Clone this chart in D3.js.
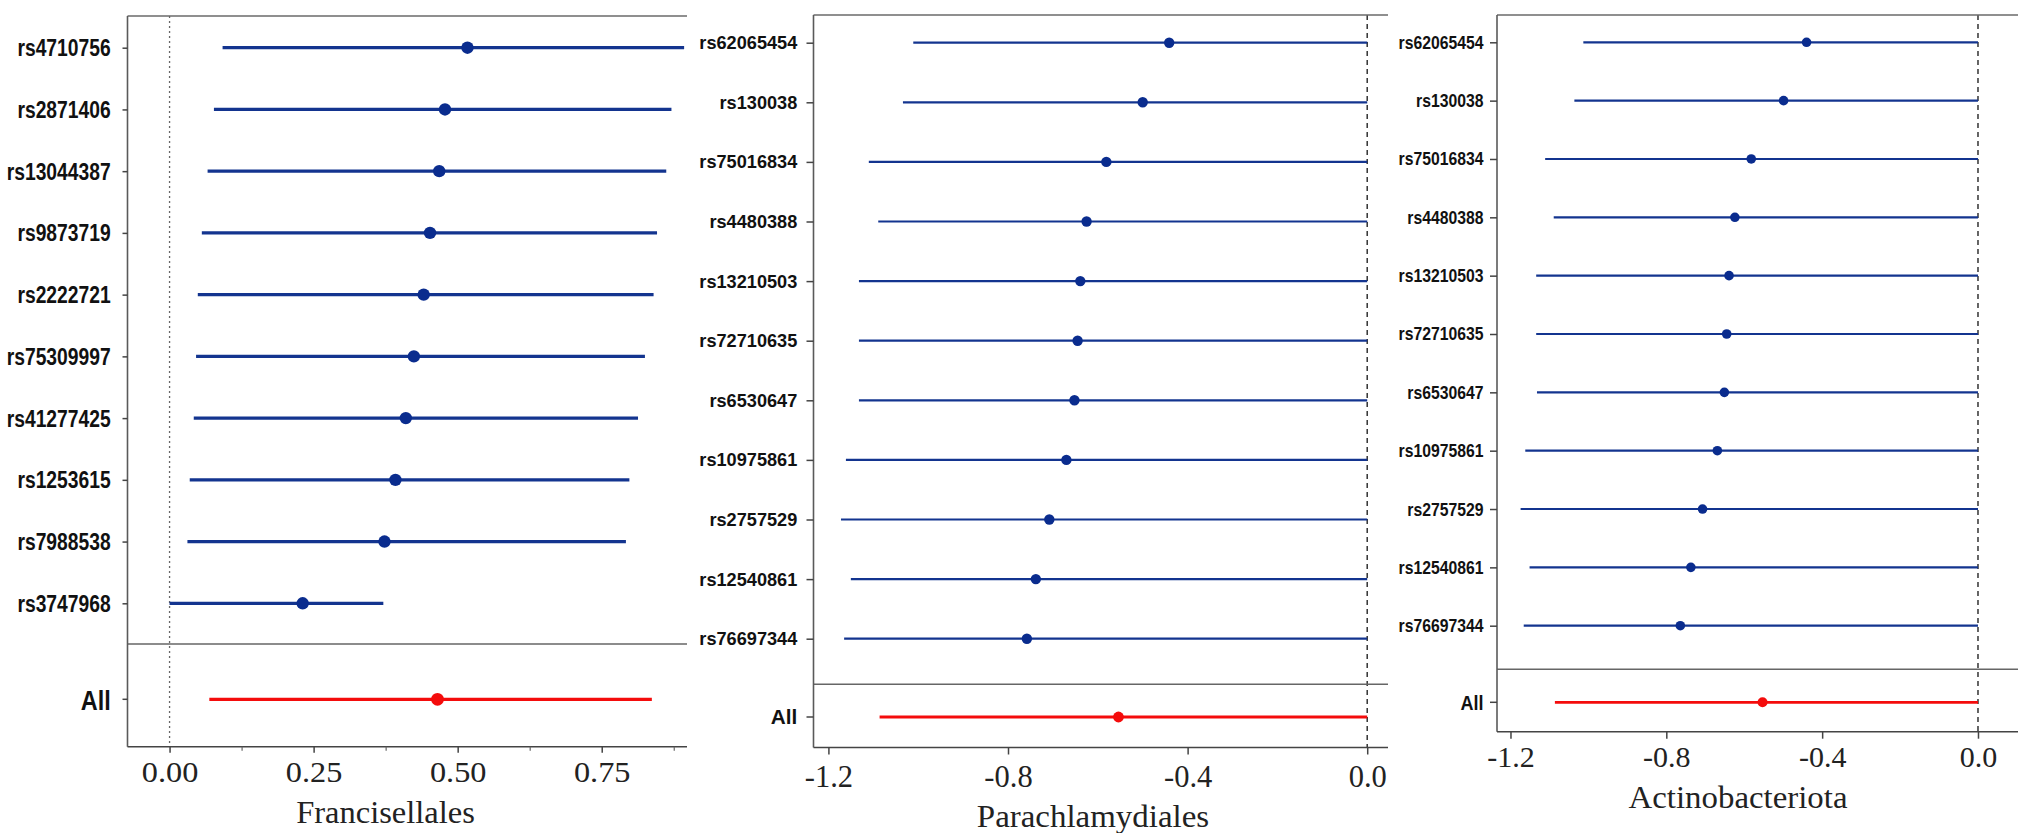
<!DOCTYPE html>
<html>
<head>
<meta charset="utf-8">
<script src="https://cdn.jsdelivr.net/npm/d3@7"></script>
<style>
  html, body { margin: 0; padding: 0; background: #ffffff; }
  svg { display: block; }
</style>
</head>
<body>
<svg id="chart" width="2018" height="833"></svg>
<script>
// ---------------- DATA ----------------
// Panel 1: Francisellales
const snps1 = ["rs4710756","rs2871406","rs13044387","rs9873719","rs2222721","rs75309997","rs41277425","rs1253615","rs7988538","rs3747968"];
const est1  = [0.517, 0.478, 0.468, 0.452, 0.441, 0.424, 0.410, 0.392, 0.373, 0.231];
const lo1   = [0.092, 0.077, 0.066, 0.056, 0.049, 0.046, 0.042, 0.035, 0.031, 0.000];
const hi1   = [0.893, 0.871, 0.862, 0.846, 0.840, 0.825, 0.813, 0.798, 0.792, 0.371];
const all1  = { est: 0.465, lo: 0.069, hi: 0.837 };
const xTicks1 = [0, 0.25, 0.5, 0.75];
const xTickLabels1 = ["0.00", "0.25", "0.50", "0.75"];
const xMinor1 = [0.125, 0.375, 0.625, 0.875];
const title1 = "Francisellales";

// Panel 2: Parachlamydiales
const snps2 = ["rs62065454","rs130038","rs75016834","rs4480388","rs13210503","rs72710635","rs6530647","rs10975861","rs2757529","rs12540861","rs76697344"];
const est2  = [-0.441, -0.500, -0.581, -0.625, -0.639, -0.645, -0.652, -0.670, -0.708, -0.738, -0.758];
const lo2   = [-1.011, -1.034, -1.110, -1.089, -1.132, -1.132, -1.132, -1.161, -1.172, -1.150, -1.165];
const hi2   = [0, 0, 0, 0, 0, 0, 0, 0, 0, 0, 0];
const all2  = { est: -0.554, lo: -1.086, hi: 0 };
const xTicks2 = [-1.2, -0.8, -0.4, 0.0];
const xTickLabels2 = ["-1.2", "-0.8", "-0.4", "0.0"];
const title2 = "Parachlamydiales";

// Panel 3: Actinobacteriota
const snps3 = ["rs62065454","rs130038","rs75016834","rs4480388","rs13210503","rs72710635","rs6530647","rs10975861","rs2757529","rs12540861","rs76697344"];
const est3  = [-0.440, -0.499, -0.582, -0.624, -0.639, -0.645, -0.651, -0.669, -0.707, -0.737, -0.764];
const lo3   = [-1.013, -1.036, -1.111, -1.089, -1.134, -1.134, -1.132, -1.162, -1.174, -1.151, -1.166];
const hi3   = [0, 0, 0, 0, 0, 0, 0, 0, 0, 0, 0];
const all3  = { est: -0.553, lo: -1.086, hi: 0 };
const xTicks3 = [-1.2, -0.8, -0.4, 0.0];
const xTickLabels3 = ["-1.2", "-0.8", "-0.4", "0.0"];
const title3 = "Actinobacteriota";

// ---------------- STYLE ----------------
const BLUE = "#0a2c8e";
const BLUE_LINE = "#13348f";
const RED = "#f40c0c";
const SANS = "'Liberation Sans', Arial, Helvetica, sans-serif";
const SERIF = "'Liberation Serif', 'Times New Roman', Times, serif";

const svg = d3.select("#chart");

function drawPanel(cfg) {
  const g = svg.append("g");
  const x = d3.scaleLinear().domain(cfg.domain).range(cfg.xRange);
  const y = d3.scalePoint().domain(cfg.snps).range([cfg.rowFirst, cfg.rowLast]);
  const [x0, x1] = cfg.xRange;

  const rows = cfg.snps.map((s, i) => ({ snp: s, est: cfg.est[i], lo: cfg.lo[i], hi: cfg.hi[i] }));

  // zero reference line
  g.append("line")
    .attr("x1", x(0)).attr("x2", x(0))
    .attr("y1", cfg.top).attr("y2", cfg.bottom)
    .attr("stroke", cfg.zeroColor)
    .attr("stroke-width", cfg.zeroWidth)
    .attr("stroke-dasharray", cfg.zeroDash);

  // frame lines
  const frame = "#5a5a5a";
  g.append("line").attr("x1", x0).attr("x2", x1).attr("y1", cfg.top).attr("y2", cfg.top)
    .attr("stroke", "#6a6a6a").attr("stroke-width", 1.6);
  g.append("line").attr("x1", x0).attr("x2", x1).attr("y1", cfg.sep).attr("y2", cfg.sep)
    .attr("stroke", "#666").attr("stroke-width", 1.6);
  g.append("line").attr("x1", x0).attr("x2", x0).attr("y1", cfg.top).attr("y2", cfg.bottom)
    .attr("stroke", frame).attr("stroke-width", 1.6);
  g.append("line").attr("x1", x0).attr("x2", x1).attr("y1", cfg.bottom).attr("y2", cfg.bottom)
    .attr("stroke", "#444").attr("stroke-width", 1.6);

  // CI segments
  g.selectAll("line.ci").data(rows).enter().append("line")
    .attr("class", "ci")
    .attr("x1", d => x(d.lo)).attr("x2", d => x(d.hi))
    .attr("y1", d => y(d.snp)).attr("y2", d => y(d.snp))
    .attr("stroke", BLUE_LINE).attr("stroke-width", cfg.lineW);
  g.selectAll("circle.pt").data(rows).enter().append("circle")
    .attr("class", "pt")
    .attr("cx", d => x(d.est)).attr("cy", d => y(d.snp))
    .attr("r", cfg.r).attr("fill", BLUE);

  // overall
  g.append("line")
    .attr("x1", x(cfg.all.lo)).attr("x2", x(cfg.all.hi))
    .attr("y1", cfg.allY).attr("y2", cfg.allY)
    .attr("stroke", RED).attr("stroke-width", cfg.allLineW);
  g.append("circle")
    .attr("cx", x(cfg.all.est)).attr("cy", cfg.allY)
    .attr("r", cfg.allR).attr("fill", RED);

  // y axis ticks and labels
  const yAxisG = g.append("g").attr("transform", `translate(${x0},0)`);
  yAxisG.call(d3.axisLeft(y).tickSize(cfg.yTickLen).tickSizeOuter(0).tickFormat(""));
  yAxisG.select(".domain").remove();
  yAxisG.selectAll(".tick line").attr("stroke", "#444").attr("stroke-width", 1.5);

  const labels = g.append("g");
  const txt = labels.selectAll("text").data(cfg.snps).enter().append("text")
    .attr("font-family", SANS).attr("font-weight", "bold")
    .attr("font-size", cfg.labelFont).attr("fill", "#111")
    .attr("text-anchor", "end").attr("dy", "0.37em")
    .text(d => d);
  // horizontal scale to match the reference's label width
  const ref = txt.filter(d => d === cfg.refLabel).node();
  const sx = cfg.refWidth / ref.getComputedTextLength();
  txt.attr("transform", d => `translate(${cfg.labelRight},${y(d)}) scale(${sx},1)`);

  // "All" label + tick
  g.append("line").attr("x1", x0 - cfg.yTickLen).attr("x2", x0)
    .attr("y1", cfg.allY).attr("y2", cfg.allY).attr("stroke", "#444").attr("stroke-width", 1.5);
  g.append("text")
    .attr("font-family", SANS).attr("font-weight", "bold")
    .attr("font-size", cfg.allFont).attr("fill", "#111")
    .attr("text-anchor", "end").attr("dy", "0.37em")
    .attr("transform", `translate(${cfg.labelRight},${cfg.allY}) scale(${sx},1)`)
    .text("All");

  // x axis
  const xAxisG = g.append("g").attr("transform", `translate(0,${cfg.bottom})`);
  xAxisG.call(d3.axisBottom(x).tickValues(cfg.xTicks)
    .tickFormat((d, i) => cfg.xTickLabels[i]).tickSize(cfg.xTickLen).tickSizeOuter(0));
  xAxisG.select(".domain").remove();
  xAxisG.selectAll(".tick line").attr("stroke", "#444").attr("stroke-width", 1.5);
  xAxisG.selectAll(".tick text")
    .attr("font-family", SERIF).attr("font-size", cfg.tickFont).attr("fill", "#222")
    .attr("y", cfg.tickBaseline - cfg.bottom).attr("dy", 0)
    .attr("transform", `scale(${cfg.tickSx},1)`);
  if (cfg.minor) {
    const mg = g.append("g").attr("transform", `translate(0,${cfg.bottom})`);
    mg.call(d3.axisBottom(x).tickValues(cfg.minor).tickFormat("").tickSize(4).tickSizeOuter(0));
    mg.select(".domain").remove();
    mg.selectAll(".tick line").attr("stroke", "#666").attr("stroke-width", 1.2);
  }

  // axis title
  g.append("text")
    .attr("font-family", SERIF).attr("font-size", cfg.titleFont).attr("fill", "#222")
    .attr("text-anchor", "middle")
    .attr("transform", `translate(${cfg.titleX},${cfg.titleY}) scale(${cfg.titleSx},1)`)
    .text(cfg.title);
}

drawPanel({
  snps: snps1, est: est1, lo: lo1, hi: hi1, all: all1,
  xTicks: xTicks1, xTickLabels: xTickLabels1, minor: xMinor1, title: title1,
  domain: [-0.073, 0.898], xRange: [127.5, 687],
  top: 16, rowFirst: 47.7, rowLast: 603.3, sep: 644, allY: 699.3, bottom: 746.7,
  labelRight: 110.7, yTickLen: 5, labelFont: 23, refLabel: "rs4710756", refWidth: 93.3, allFont: 28,
  lineW: 3.2, r: 6.2, allLineW: 3.2, allR: 6.4,
  zeroColor: "#666", zeroWidth: 1.3, zeroDash: "2,3",
  xTickLen: 6, tickFont: 30.5, tickSx: 1.06, tickBaseline: 782.3,
  titleX: 385.5, titleY: 823.3, titleFont: 32.5, titleSx: 1.0
});

drawPanel({
  snps: snps2, est: est2, lo: lo2, hi: hi2, all: all2,
  xTicks: xTicks2, xTickLabels: xTickLabels2, minor: null, title: title2,
  domain: [-1.2332, 0.0463], xRange: [813.5, 1388],
  top: 15, rowFirst: 42.7, rowLast: 638.7, sep: 684.3, allY: 717, bottom: 747.5,
  labelRight: 797.3, yTickLen: 7, labelFont: 17.5, refLabel: "rs62065454", refWidth: 98, allFont: 20,
  lineW: 2.2, r: 5.2, allLineW: 2.8, allR: 5.4,
  zeroColor: "#333", zeroWidth: 1.5, zeroDash: "5,4",
  xTickLen: 7, tickFont: 30.5, tickSx: 1.0, tickBaseline: 786.7,
  titleX: 1093, titleY: 827.3, titleFont: 32, titleSx: 1.03
});

drawPanel({
  snps: snps3, est: est3, lo: lo3, hi: hi3, all: all3,
  xTicks: xTicks3, xTickLabels: xTickLabels3, minor: null, title: title3,
  domain: [-1.2346, 0.1027], xRange: [1497, 2018],
  top: 15, rowFirst: 42.3, rowLast: 625.7, sep: 669.3, allY: 702.3, bottom: 731.7,
  labelRight: 1483.5, yTickLen: 7, labelFont: 17.5, refLabel: "rs62065454", refWidth: 85, allFont: 20,
  lineW: 2.2, r: 4.8, allLineW: 2.8, allR: 5.0,
  zeroColor: "#333", zeroWidth: 1.5, zeroDash: "5,4",
  xTickLen: 7, tickFont: 30, tickSx: 1.0, tickBaseline: 766.7,
  titleX: 1738, titleY: 808.3, titleFont: 31, titleSx: 1.06
});
</script>
</body>
</html>
